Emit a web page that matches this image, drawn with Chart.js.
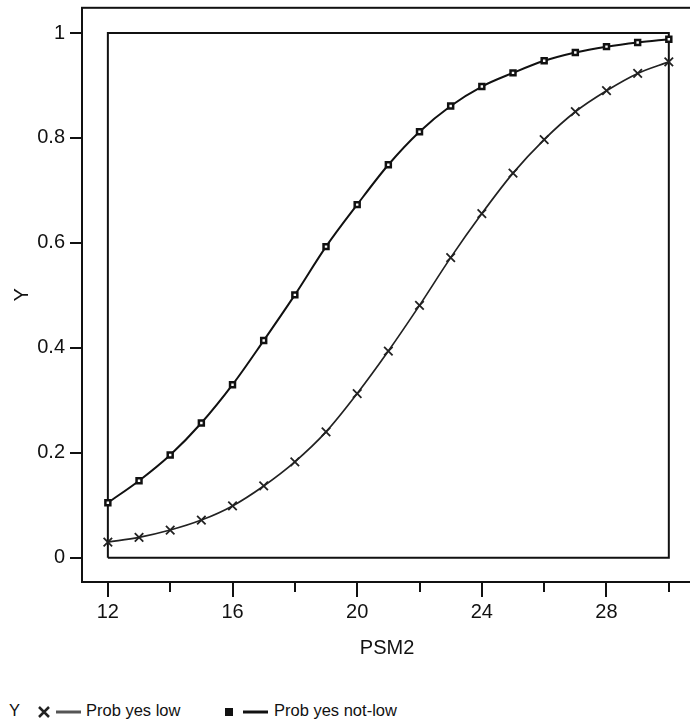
<!DOCTYPE html>
<html>
<head>
<meta charset="utf-8">
<script src="https://cdn.jsdelivr.net/npm/chart.js@4/dist/chart.umd.min.js"></script>
<style>
  html, body { margin: 0; padding: 0; background: #fff; overflow: hidden; width: 690px; height: 727px; }
  #wrap { position: relative; width: 690px; height: 727px; overflow: hidden; }
  #c { position: absolute; left: 0; top: 0; }
  .leg { position: absolute; top: 698px; font-family: "Liberation Sans", Arial, sans-serif; font-size: 16.5px; color: #111; line-height: 24px; white-space: nowrap; }
  .leg svg { vertical-align: middle; }
</style>
</head>
<body>
<div id="wrap">
  <canvas id="c" width="700" height="670"></canvas>
  <div class="leg" style="left:9px">Y</div>
  <div class="leg" style="left:36px">
    <svg width="48" height="24"><path d="M3 7 L13 17 M13 7 L3 17" stroke="#222" stroke-width="2.5"/><line x1="20" y1="12" x2="45" y2="12" stroke="#555" stroke-width="3"/></svg><span style="margin-left:2px">Prob yes low</span>
  </div>
  <div class="leg" style="left:223px">
    <svg width="48" height="24"><rect x="2.5" y="8.5" width="7" height="7" fill="#111" stroke="#111"/><line x1="20" y1="12" x2="45" y2="12" stroke="#111" stroke-width="3"/></svg><span style="margin-left:3px">Prob yes not-low</span>
  </div>
</div>
<script>
const psm2 = [12, 13, 14, 15, 16, 17, 18, 19, 20, 21, 22, 23, 24, 25, 26, 27, 28, 29, 30];
const probLow = [0.030, 0.039, 0.053, 0.072, 0.099, 0.137, 0.183, 0.240, 0.313, 0.394, 0.481, 0.572, 0.656, 0.733, 0.797, 0.850, 0.890, 0.923, 0.945];
const probNotLow = [0.105, 0.147, 0.196, 0.257, 0.330, 0.414, 0.501, 0.593, 0.673, 0.749, 0.812, 0.861, 0.898, 0.924, 0.947, 0.963, 0.974, 0.982, 0.988];
const xTicks = [12, 14, 16, 18, 20, 22, 24, 26, 28, 30];
const xLabelTicks = [12, 16, 20, 24, 28];
const yTicks = [0, 0.2, 0.4, 0.6, 0.8, 1];
const boxCorners = [[12, 0], [30, 0], [30, 1], [12, 1], [12, 0]];

const FONT = '"Liberation Sans", Arial, sans-serif';

const framePlugin = {
    id: 'frame',
    afterDraw(chart) {
        const { ctx, chartArea: a } = chart;
        const x = chart.scales.x;
        ctx.save();
        ctx.strokeStyle = '#111';
        ctx.lineWidth = 2;
        ctx.strokeRect(a.left, a.top, a.right - a.left, a.bottom - a.top);
        // tick marks under the x axis, long on labelled values
        xTicks.forEach(v => {
            const px = Math.round(x.getPixelForValue(v));
            const len = xLabelTicks.includes(v) ? 15 : 10;
            ctx.beginPath();
            ctx.moveTo(px, a.bottom);
            ctx.lineTo(px, a.bottom + len);
            ctx.stroke();
        });
        ctx.restore();
    }
};

new Chart(document.getElementById('c'), {
    type: 'line',
    data: {
        datasets: [
            {
                label: 'Prob yes not-low',
                data: psm2.map((v, i) => ({ x: v, y: probNotLow[i] })),
                borderColor: '#111',
                borderWidth: 2,
                pointStyle: 'rect',
                pointRadius: 3.5,
                pointBorderWidth: 2.5,
                pointBackgroundColor: '#fff',
                pointBorderColor: '#111',
                cubicInterpolationMode: 'monotone',
                order: 1
            },
            {
                label: 'Prob yes low',
                data: psm2.map((v, i) => ({ x: v, y: probLow[i] })),
                borderColor: '#222',
                borderWidth: 1.7,
                pointStyle: 'crossRot',
                pointRadius: 6,
                pointBorderWidth: 1.8,
                pointBorderColor: '#222',
                cubicInterpolationMode: 'monotone',
                order: 2
            },
            {
                label: 'box',
                data: boxCorners.map(p => ({ x: p[0], y: p[1] })),
                borderColor: '#111',
                borderWidth: 2,
                pointRadius: 0,
                tension: 0,
                order: 3
            }
        ]
    },
    options: {
        responsive: false,
        animation: false,
        layout: { padding: { top: 7, right: 3, left: 0, bottom: 0 } },
        plugins: { legend: { display: false }, tooltip: { enabled: false } },
        scales: {
            x: {
                type: 'linear',
                min: 11.17,
                max: 30.75,
                afterBuildTicks: s => { s.ticks = xTicks.map(v => ({ value: v })); },
                afterFit: s => { s.height = 88; s.paddingLeft = 0; s.paddingRight = 0; },
                border: { display: false },
                grid: { display: false },
                ticks: {
                    autoSkip: false,
                    maxRotation: 0,
                    padding: 10,
                    color: '#111',
                    font: { family: FONT, size: 20 },
                    callback: v => xLabelTicks.includes(v) ? String(v) : ''
                },
                title: { display: true, text: 'PSM2', color: '#111', font: { family: FONT, size: 20 }, padding: { top: 0, bottom: 10 } }
            },
            y: {
                type: 'linear',
                min: -0.046,
                max: 1.048,
                afterBuildTicks: s => { s.ticks = yTicks.map(v => ({ value: v })); },
                afterFit: s => { s.width = 82; s.paddingTop = 0; s.paddingBottom = 0; },
                border: { display: false },
                grid: { drawOnChartArea: false, drawTicks: true, tickLength: 12, color: '#111', lineWidth: 2 },
                ticks: {
                    padding: 5,
                    color: '#111',
                    font: { family: FONT, size: 20 },
                    callback: v => String(v)
                },
                title: { display: true, text: 'Y', color: '#111', font: { family: FONT, size: 20 }, padding: { top: 10, bottom: 0 } }
            }
        }
    },
    plugins: [framePlugin]
});
</script>
</body>
</html>
